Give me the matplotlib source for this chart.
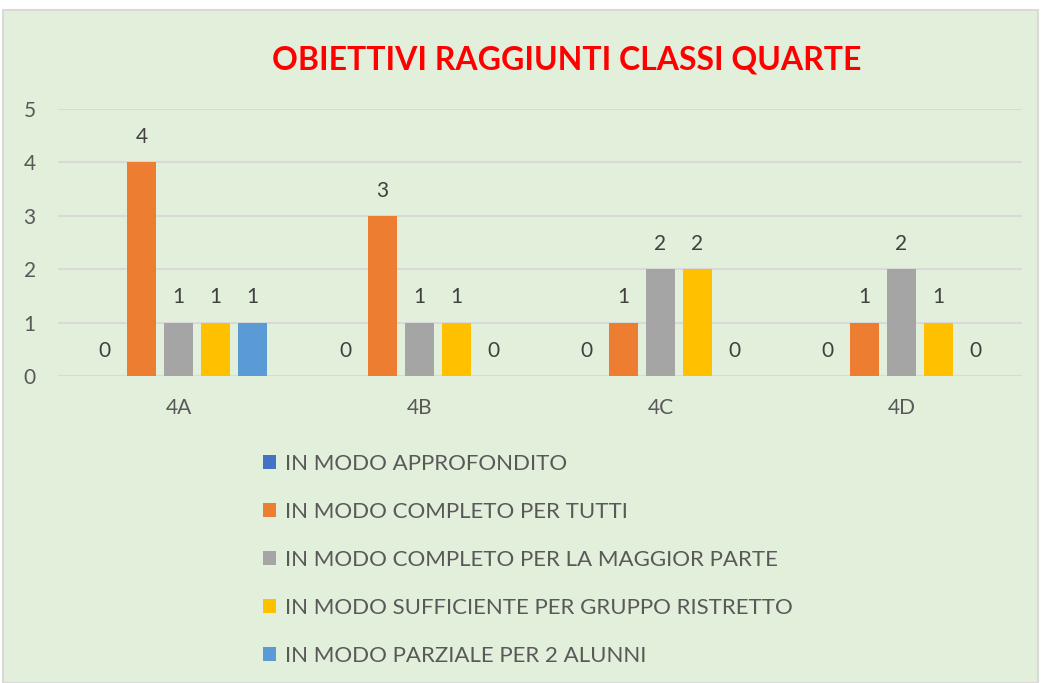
import numpy as np
import matplotlib.pyplot as plt
from matplotlib.patches import Rectangle

plt.rcParams['font.family'] = ['Lato', 'DejaVu Sans']

classes = ['4A', '4B', '4C', '4D']
series = ['IN MODO APPROFONDITO',
          'IN MODO COMPLETO PER TUTTI',
          'IN MODO COMPLETO PER LA MAGGIOR PARTE',
          'IN MODO SUFFICIENTE PER GRUPPO RISTRETTO',
          'IN MODO PARZIALE PER 2 ALUNNI']
approfondito = [0, 0, 0, 0]
completo_tutti = [4, 3, 1, 1]
completo_maggior = [1, 1, 2, 2]
sufficiente = [1, 1, 2, 1]
parziale = [1, 0, 0, 0]
values = [approfondito, completo_tutti, completo_maggior, sufficiente, parziale]
colors = ['#4472C4', '#ED7D31', '#A5A5A5', '#FFC000', '#5B9BD5']

W, H = 1041, 683
fig = plt.figure(figsize=(W / 100, H / 100), dpi=100)
fig.patch.set_facecolor('white')
# green chart area with thin grey frame
fig.patches.append(Rectangle((3 / W, 0), 1035 / W, 673 / H, transform=fig.transFigure,
                             facecolor='#E2EFDA', edgecolor='#D9D9D9', lw=1.5, zorder=-10))

ax = fig.add_axes([58 / W, 1 - 376 / H, 964 / W, 267 / H])
ax.set_facecolor('none')

x = np.arange(len(classes))
step = 0.153
width = 0.12
handles = []
for i, (vals, c) in enumerate(zip(values, colors)):
    b = ax.bar(x + (i - 2) * step, vals, width, color=c, zorder=3, label=series[i])
    ax.bar_label(b, padding=11, fontsize=15, color='#404040')
    handles.append(b)

ax.set_xlim(-0.5, 3.5)
ax.set_ylim(0, 5)
ax.set_yticks(range(6))
ax.set_xticks(x)
ax.set_xticklabels(classes)
ax.tick_params(length=0, labelsize=15, labelcolor='#595959')
ax.tick_params(axis='y', pad=16)
ax.tick_params(axis='x', pad=16)
ax.grid(axis='y', color='#D9D9D9', lw=1.5, zorder=0)
for s in ax.spines.values():
    s.set_visible(False)

fig.text(567 / W, 1 - 60 / H, 'OBIETTIVI RAGGIUNTI CLASSI QUARTE', color='#FF0000',
         fontsize=23, fontweight='bold', ha='center', va='center')

fig.legend(handles, series, loc='upper left', bbox_to_anchor=(252 / W, 1 - 443 / H),
           frameon=False, fontsize=16, labelcolor='#595959', handlelength=0.6,
           handleheight=0.6, handletextpad=0.4, labelspacing=1.26, borderpad=0)

fig.savefig('out.png', dpi=100)
